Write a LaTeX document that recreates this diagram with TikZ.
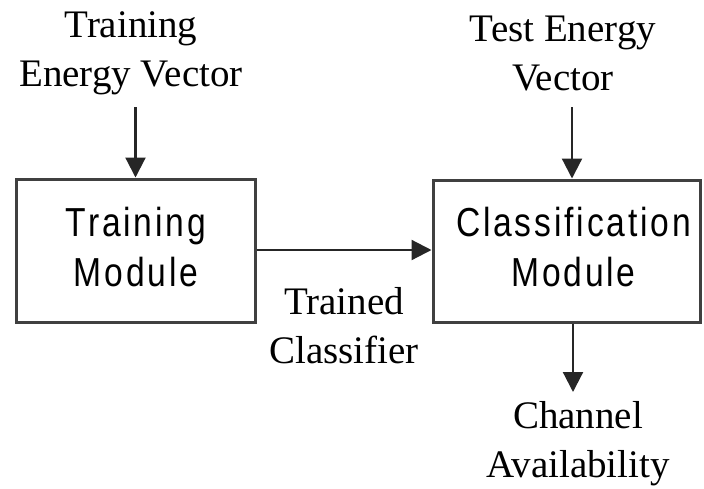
\documentclass[tikz,border=0pt]{standalone}
\usepackage{fontspec}
\setmainfont{Liberation Serif}
\newfontfamily\boxfont[FakeStretch=0.83,LetterSpace=7]{Liberation Sans}
\usetikzlibrary{arrows.meta,calc}
\begin{document}
\begin{tikzpicture}[x=1pt,y=-1pt,
  box/.style={draw=black!75,line width=3pt,rectangle,inner sep=0pt},
  boxtext/.style={font=\boxfont\fontsize{40.5}{50}\selectfont,align=center,anchor=base,inner sep=0pt},
  lab/.style={font=\fontsize{39}{48.5}\selectfont,align=center,anchor=base,inner sep=0pt},
  arr/.style={draw=black!85,line width=2.2pt,-{Triangle[length=20pt,width=20pt]}}]
\useasboundingbox (0,0) rectangle (704,488);
\node[box,minimum width=239pt,minimum height=143pt] (b1) at (135.5,250.5) {};
\node[box,minimum width=267pt,minimum height=142pt] (b2) at (566.5,251) {};
\node[boxtext] (t1) at (136,286) {Training\\Module};
\node[boxtext] (t2) at (573.5,286.5) {Classification\\Module};
\node[lab] (l1) at (131,86) {Training\\Energy Vector};
\node[lab] (l2) at (563,90) {Test Energy\\Vector};
\node[lab] (l3) at (344,363) {Trained\\Classifier};
\node[lab] (l4) at (578,477) {Channel\\Availability};
\coordinate (in1) at (135.5,107);
\coordinate (in2) at (572,107);
\coordinate (out2) at (573,392);
\draw[arr] (in1) -- (in1 |- b1.north);
\draw[arr] (in2) -- (in2 |- b2.north);
\draw[arr] (b1.east |- 0,250) -- (b2.west |- 0,250);
\draw[arr] (out2 |- b2.south) -- (out2);
\end{tikzpicture}
\end{document}
